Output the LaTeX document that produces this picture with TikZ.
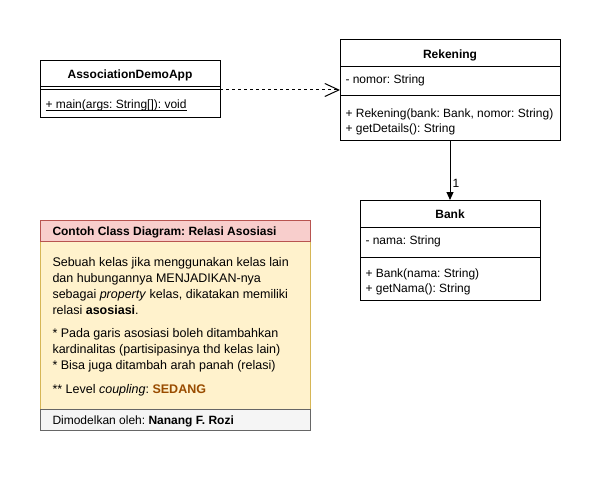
\documentclass[tikz,border=0pt]{standalone}
\usepackage{fontspec}
\setmainfont{Liberation Sans}
\usetikzlibrary{arrows.meta}
\definecolor{hdrfill}{HTML}{F8CECC}
\definecolor{hdrdraw}{HTML}{B85450}
\definecolor{bodyfill}{HTML}{FFF2CC}
\definecolor{bodydraw}{HTML}{D6B656}
\definecolor{footfill}{HTML}{F5F5F5}
\definecolor{footdraw}{HTML}{666666}
\definecolor{sedang}{HTML}{994C00}
\frenchspacing
\begin{document}
\begin{tikzpicture}[x=1pt,y=-1pt,line width=1pt,
  box/.style={draw,rectangle,anchor=north west,inner sep=0pt,outer sep=0pt},
  txt/.style={anchor=base west,inner sep=0pt,font=\fontsize{12}{14}\selectfont},
  ntxt/.style={anchor=base west,inner sep=0pt,font=\fontsize{12.5}{14}\selectfont},
  ttl/.style={anchor=base,inner sep=0pt,font=\fontsize{12}{14}\selectfont\bfseries}]
\useasboundingbox (0,0) rectangle (601,481);
% AssociationDemoApp
\node[box,minimum width=180pt,minimum height=57pt] (app) at (40,61) {};
\draw (app.west |- 0,87) -- (app.east |- 0,87);
\draw (app.west |- 0,90) -- (app.east |- 0,90);
\node[ttl] (appt) at (130,78.5) {AssociationDemoApp};
\node[txt] (appm) at (45,108.5) {\underline{\smash{+ main(args: String[]): void}}};
% Rekening
\node[box,minimum width=220pt,minimum height=101pt] (rek) at (340,40) {};
\draw (rek.west |- 0,67) -- (rek.east |- 0,67);
\draw (rek.west |- 0,96) -- (rek.east |- 0,96);
\node[ttl] (rekt) at (450,58.5) {Rekening};
\node[txt] (reka) at (345,83.5) {- nomor: String};
\node[txt] (rekm1) at (345,117.5) {+ Rekening(bank: Bank, nomor: String)};
\node[txt] (rekm2) at (345,132.5) {+ getDetails(): String};
% Bank
\node[box,minimum width=180pt,minimum height=100pt] (bank) at (360,200) {};
\draw (bank.west |- 0,227) -- (bank.east |- 0,227);
\draw (bank.west |- 0,257) -- (bank.east |- 0,257);
\node[ttl] (bankt) at (450,218.5) {Bank};
\node[txt] (banka) at (365,244.5) {- nama: String};
\node[txt] (bankm1) at (365,277.5) {+ Bank(nama: String)};
\node[txt] (bankm2) at (365,292.5) {+ getNama(): String};
% connectors
\draw[dash pattern=on 3pt off 3pt,-{Straight Barb[length=14pt,width=13pt,line width=1pt]}] (app.east |- 0,90) -- (rek.west |- 0,90);
\draw[-{Triangle[length=8pt,width=7pt]}] (rek.south) -- (bank.north);
\node[txt] (card) at (452,187.5) {1};
% note
\node[box,fill=bodyfill,draw=bodydraw,minimum width=270pt,minimum height=168pt] (nbody) at (40,241) {};
\node[box,fill=hdrfill,draw=hdrdraw,minimum width=270pt,minimum height=21pt] (nhdr) at (40,220) {};
\node[box,fill=footfill,draw=footdraw,minimum width=270pt,minimum height=21pt] (nfoot) at (40,409) {};
\node[txt,font=\fontsize{12}{14}\selectfont\bfseries] (nht) at (52,235.5) {Contoh Class Diagram: Relasi Asosiasi};
\node[ntxt] (l1) at (52,266.5) {Sebuah kelas jika menggunakan kelas lain};
\node[ntxt] (l2) at (52,282.5) {dan hubungannya MENJADIKAN-nya};
\node[ntxt] (l3) at (52,298.5) {sebagai \textit{property} kelas, dikatakan memiliki};
\node[ntxt] (l4) at (52,314.5) {relasi \textbf{asosiasi}.};
\node[ntxt] (l5) at (52,337.5) {* Pada garis asosiasi boleh ditambahkan};
\node[ntxt] (l6) at (52,353.5) {kardinalitas (partisipasinya thd kelas lain)};
\node[ntxt] (l7) at (52,369.5) {* Bisa juga ditambah arah panah (relasi)};
\node[ntxt] (l8) at (52,393.5) {** Level \textit{coupling}: \textcolor{sedang}{\textbf{SEDANG}}};
\node[txt] (nft) at (52,424.5) {Dimodelkan oleh: \textbf{Nanang F. Rozi}};
\end{tikzpicture}
\end{document}
